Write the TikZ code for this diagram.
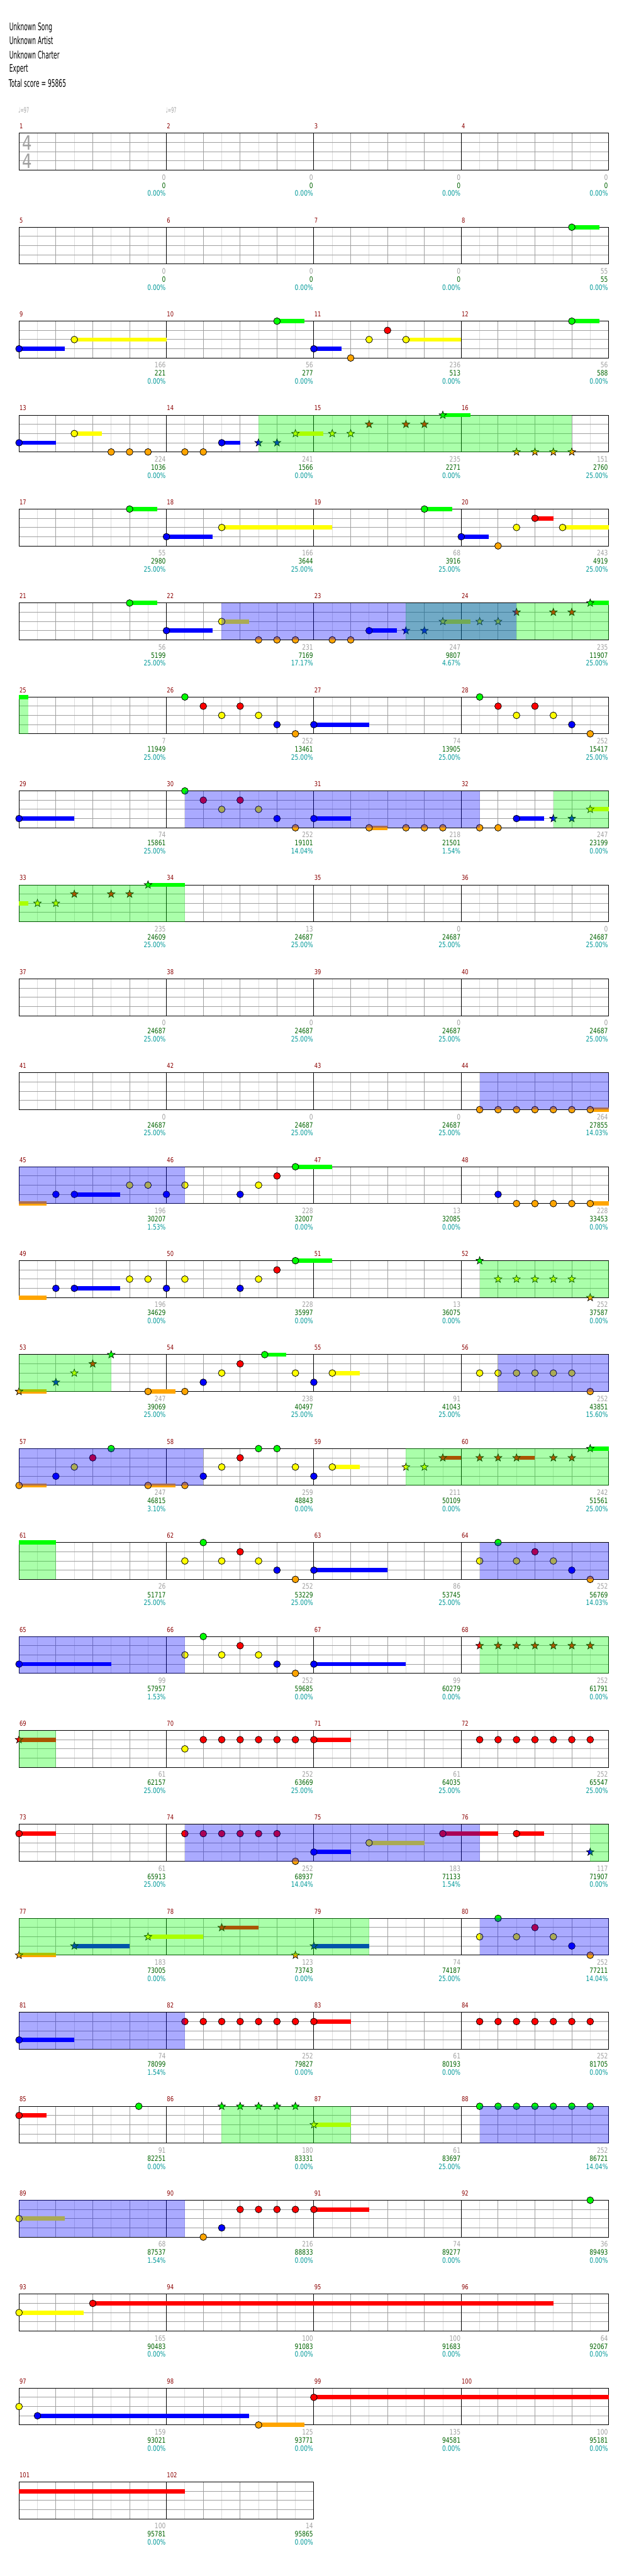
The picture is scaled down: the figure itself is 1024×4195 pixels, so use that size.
\documentclass[tikz,border=0pt]{standalone}
\usepackage{fontspec}
\setmainfont{DejaVu Sans}
\newfontfamily\headfont{DejaVu Sans}[FakeStretch=0.55]
\newfontfamily\chartfont{DejaVu Sans}[FakeStretch=0.78]
\definecolor{lane0}{RGB}{0,255,0}
\definecolor{lane1}{RGB}{255,0,0}
\definecolor{lane2}{RGB}{255,255,0}
\definecolor{lane3}{RGB}{0,0,255}
\definecolor{lane4}{RGB}{255,165,0}
\definecolor{gridg}{RGB}{160,160,160}
\definecolor{gridl}{RGB}{220,220,220}
\definecolor{barnum}{RGB}{139,0,0}
\definecolor{statg}{RGB}{0,100,0}
\definecolor{statt}{RGB}{0,153,153}

% row r: staff top at 217+153(r-1), lanes 15 apart, beat b at x=31+60b
\newcommand\hit[3]{% row, lane, beats
  \foreach \hb in {#3}{\filldraw[fill=lane#2, draw=black, line width=0.8pt]
    ({31+60*\hb},{217+153*(#1-1)+15*#2}) circle (5.5);}}
\newcommand\starhit[3]{% row, lane, beats
  \foreach \hb in {#3}{\filldraw[fill=lane#2, draw=black, line width=0.7pt,
    shift={({31+60*\hb},{217+153*(#1-1)+15*#2})}]
    (270:6.5) -- (306:2.7) -- (342:6.5) -- (18:2.7) -- (54:6.5) -- (90:2.7)
    -- (126:6.5) -- (162:2.7) -- (198:6.5) -- (234:2.7) -- cycle;}}
\newcommand\sus[4]{% row, lane, from, to
  \fill[lane#2] ({31+60*#3},{217+153*(#1-1)+15*#2-3.5}) rectangle ({31+60*#4},{217+153*(#1-1)+15*#2+3.5});}
\newcommand\spzone[3]{\fill[lane0, opacity=0.333] ({31+60*#2},{217+153*(#1-1)}) rectangle ({31+60*#3},{217+153*(#1-1)+60});}
\newcommand\actzone[3]{\fill[lane3, opacity=0.333] ({31+60*#2},{217+153*(#1-1)}) rectangle ({31+60*#3},{217+153*(#1-1)+60});}

\begin{document}
\begin{tikzpicture}[x=1pt, y=-1pt,
  stat/.style={anchor=base east, inner sep=0pt, font=\chartfont\fontsize{12}{12}\selectfont},
  head/.style={anchor=base west, inner sep=0pt, font=\headfont\fontsize{17}{17}\selectfont}]
\fill[white] (0,0) rectangle (1024,4195);
\useasboundingbox (0,0) rectangle (1024,4195);

% ---- header ----
\node[head] (song) at (15,49.3) {Unknown Song};
\node[head] (artist) at (15,72.3) {Unknown Artist};
\node[head] (charter) at (15,95.3) {Unknown Charter};
\node[head] (diff) at (15,117.3) {Expert};
\node[head] (total) at (14,141.7) {Total score = 95865};
\foreach \i in {0,1}{
  \node[anchor=base west, inner sep=0pt, gridg, font=\headfont\fontsize{12}{12}\selectfont] (tempo\i) at ({30+240*\i},184) {♩=97};
}
\node[gridg, inner sep=0pt, font=\chartfont\fontsize{32}{32}\selectfont] (tsup) at (44,233) {4};
\node[gridg, inner sep=0pt, font=\chartfont\fontsize{32}{32}\selectfont] (tsdown) at (44,262) {4};

% ---- staff grid (26 rows, last one 2 measures) ----
\foreach \r in {1,...,26}{
  \pgfmathsetmacro\ry{217+153*(\r-1)}
  \pgfmathtruncatemacro\nm{\r<26 ? 4 : 2}
  \pgfmathtruncatemacro\nbt{4*\nm}
  \pgfmathsetmacro\xe{31+240*\nm}
  \foreach \k in {1,...,\nbt}{ \draw[gridl, line width=1pt] ({1+60*\k},\ry) -- ++(0,60); }
  \foreach \k in {1,...,\nbt}{ \draw[gridg, line width=1pt] ({31+60*\k},\ry) -- ++(0,60); }
  \foreach \l in {1,2,3}{ \draw[gridg, line width=1pt] (31,{\ry+15*\l}) -- (\xe,{\ry+15*\l}); }
  \foreach \j in {0,...,\nm}{ \draw[black, line width=1pt] ({31+240*\j},\ry) -- ++(0,60); }
  \draw[black, line width=1pt] (31,\ry) rectangle (\xe,{\ry+60});
}

% ---- notes: sustains first, heads on top ----
% row 2
\sus{2}{0}{15}{15.75} \hit{2}{0}{15}
% row 3
\sus{3}{3}{0}{1.25} \sus{3}{2}{1.5}{4} \sus{3}{0}{7}{7.75} \sus{3}{3}{8}{8.75}
\sus{3}{2}{10.5}{12} \sus{3}{0}{15}{15.75}
\hit{3}{3}{0,8} \hit{3}{2}{1.5,9.5,10.5} \hit{3}{0}{7,15} \hit{3}{4}{9} \hit{3}{1}{10}
% row 4
\sus{4}{3}{0}{1} \sus{4}{2}{1.5}{2.25} \sus{4}{3}{5.5}{6} \sus{4}{2}{7.5}{8.25} \sus{4}{0}{11.5}{12.25}
\hit{4}{3}{0,5.5} \hit{4}{2}{1.5} \hit{4}{4}{2.5,3,3.5,4.5,5}
\starhit{4}{3}{6.5,7} \starhit{4}{2}{7.5,8.5,9} \starhit{4}{1}{9.5,10.5,11}
\starhit{4}{0}{11.5} \starhit{4}{4}{13.5,14,14.5,15}
% row 5
\sus{5}{0}{3}{3.75} \sus{5}{3}{4}{5.25} \sus{5}{2}{5.5}{8.5} \sus{5}{0}{11}{11.75}
\sus{5}{3}{12}{12.75} \sus{5}{1}{14}{14.5} \sus{5}{2}{14.75}{16}
\hit{5}{0}{3,11} \hit{5}{3}{4,12} \hit{5}{2}{5.5,13.5,14.75} \hit{5}{4}{13} \hit{5}{1}{14}
% row 6
\sus{6}{0}{3}{3.75} \sus{6}{3}{4}{5.25} \sus{6}{2}{5.5}{6.25} \sus{6}{3}{9.5}{10.25}
\sus{6}{2}{11.5}{12.25} \sus{6}{0}{15.5}{16}
\hit{6}{0}{3} \hit{6}{3}{4,9.5} \hit{6}{2}{5.5} \hit{6}{4}{6.5,7,7.5,8.5,9}
\starhit{6}{3}{10.5,11} \starhit{6}{2}{11.5,12.5,13} \starhit{6}{1}{13.5,14.5,15} \starhit{6}{0}{15.5}
% row 7
\sus{7}{0}{0}{0.25} \sus{7}{3}{8}{9.5}
\hit{7}{0}{4.5,12.5} \hit{7}{1}{5,6,13,14} \hit{7}{2}{5.5,6.5,13.5,14.5}
\hit{7}{3}{7,8,15} \hit{7}{4}{7.5,15.5}
% row 8
\sus{8}{3}{0}{1.5} \sus{8}{3}{8}{9} \sus{8}{4}{9.5}{10} \sus{8}{3}{13.5}{14.25} \sus{8}{2}{15.5}{16}
\hit{8}{3}{0,7,8,13.5} \hit{8}{0}{4.5} \hit{8}{1}{5,6} \hit{8}{2}{5.5,6.5}
\hit{8}{4}{7.5,9.5,10.5,11,11.5,12.5,13}
\starhit{8}{3}{14.5,15} \starhit{8}{2}{15.5}
% row 9
\sus{9}{2}{0}{0.25} \sus{9}{0}{3.5}{4.5}
\starhit{9}{2}{0.5,1} \starhit{9}{1}{1.5,2.5,3} \starhit{9}{0}{3.5}
% row 11
\sus{11}{4}{15.5}{16} \hit{11}{4}{12.5,13,...,15.5}
% rows 12 and 13 share an opening phrase
\foreach \rr in {12,13}{
  \sus{\rr}{4}{0}{0.75} \sus{\rr}{3}{1.5}{2.75} \sus{\rr}{0}{7.5}{8.5}
  \hit{\rr}{3}{1,1.5,4,6} \hit{\rr}{2}{3,3.5,4.5,6.5} \hit{\rr}{1}{7} \hit{\rr}{0}{7.5}
}
\sus{12}{4}{15.5}{16} \hit{12}{3}{13} \hit{12}{4}{13.5,14,...,15.5}
\starhit{13}{0}{12.5} \starhit{13}{2}{13,13.5,...,15} \starhit{13}{4}{15.5}
% row 14
\sus{14}{4}{0}{0.75} \sus{14}{4}{3.5}{4.25} \sus{14}{0}{6.667}{7.25} \sus{14}{2}{8.5}{9.25}
\starhit{14}{4}{0} \starhit{14}{3}{1} \starhit{14}{2}{1.5} \starhit{14}{1}{2} \starhit{14}{0}{2.5}
\hit{14}{4}{3.5,4.5,15.5} \hit{14}{3}{5,8} \hit{14}{2}{5.5,7.5,8.5} \hit{14}{1}{6} \hit{14}{0}{6.667}
\hit{14}{2}{12.5,13,...,15}
% row 15
\sus{15}{4}{0}{0.75} \sus{15}{4}{3.5}{4.25} \sus{15}{2}{8.5}{9.25} \sus{15}{1}{11.5}{12}
\sus{15}{1}{13.5}{14} \sus{15}{0}{15.5}{16}
\hit{15}{4}{0,3.5,4.5} \hit{15}{3}{1,5,8} \hit{15}{2}{1.5,5.5,7.5,8.5} \hit{15}{1}{2,6} \hit{15}{0}{2.5,6.5,7}
\starhit{15}{2}{10.5,11} \starhit{15}{1}{11.5,12.5,13,13.5,14.5,15} \starhit{15}{0}{15.5}
% row 16
\sus{16}{0}{0}{1} \sus{16}{3}{8}{10}
\hit{16}{2}{4.5,5.5,6.5,12.5,13.5,14.5} \hit{16}{0}{5,13} \hit{16}{1}{6,14} \hit{16}{3}{7,8,15} \hit{16}{4}{7.5,15.5}
% row 17
\sus{17}{3}{0}{2.5} \sus{17}{3}{8}{10.5}
\hit{17}{3}{0,7,8} \hit{17}{2}{4.5,5.5,6.5} \hit{17}{0}{5} \hit{17}{1}{6} \hit{17}{4}{7.5}
\starhit{17}{1}{12.5,13,...,15.5}
% row 18
\sus{18}{1}{0}{1} \sus{18}{1}{8}{9}
\starhit{18}{1}{0} \hit{18}{2}{4.5} \hit{18}{1}{5,5.5,...,8} \hit{18}{1}{12.5,13,...,15.5}
% row 19
\sus{19}{1}{0}{1} \sus{19}{3}{8}{9} \sus{19}{2}{9.5}{11} \sus{19}{1}{11.5}{13} \sus{19}{1}{13.5}{14.25}
\hit{19}{1}{0,4.5,5,...,7,11.5,13.5} \hit{19}{4}{7.5} \hit{19}{3}{8} \hit{19}{2}{9.5}
\starhit{19}{3}{15.5}
% row 20
\sus{20}{4}{0}{1} \sus{20}{3}{1.5}{3} \sus{20}{2}{3.5}{5} \sus{20}{1}{5.5}{6.5} \sus{20}{3}{8}{9.5}
\starhit{20}{4}{0,7.5} \starhit{20}{3}{1.5,8} \starhit{20}{2}{3.5} \starhit{20}{1}{5.5}
\hit{20}{2}{12.5,13.5,14.5} \hit{20}{0}{13} \hit{20}{1}{14} \hit{20}{3}{15} \hit{20}{4}{15.5}
% row 21
\sus{21}{3}{0}{1.5} \sus{21}{1}{8}{9}
\hit{21}{3}{0} \hit{21}{1}{4.5,5,...,8} \hit{21}{1}{12.5,13,...,15.5}
% row 22
\sus{22}{1}{0}{0.75} \sus{22}{2}{8}{9}
\hit{22}{1}{0} \hit{22}{0}{3.25} \starhit{22}{0}{5.5,6,...,7.5} \starhit{22}{2}{8}
\hit{22}{0}{12.5,13,...,15.5}
% row 23
\sus{23}{2}{0}{1.25} \sus{23}{1}{8}{9.5}
\hit{23}{2}{0} \hit{23}{4}{5} \hit{23}{3}{5.5} \hit{23}{1}{6,6.5,...,8} \hit{23}{0}{15.5}
% row 24
\sus{24}{2}{0}{1.75} \sus{24}{1}{2}{14.5}
\hit{24}{2}{0} \hit{24}{1}{2}
% row 25
\sus{25}{3}{0.5}{6.25} \sus{25}{4}{6.5}{7.75} \sus{25}{1}{8}{16}
\hit{25}{2}{0} \hit{25}{3}{0.5} \hit{25}{4}{6.5} \hit{25}{1}{8}
% row 26
\sus{26}{1}{0}{4.5}

% ---- star power (green) then activation (blue) overlays ----
\foreach \r/\a/\b in {4/6.5/15, 6/10.5/16, 7/0/0.25, 8/14.5/16, 9/0/4.5, 13/12.5/16, 14/0/2.5,
  15/10.5/16, 16/0/1, 17/12.5/16, 18/0/1, 19/15.5/16, 20/0/9.5, 22/5.5/9}{ \spzone{\r}{\a}{\b} }
\foreach \r/\a/\b in {6/5.5/13.5, 8/4.5/12.5, 11/12.5/16, 12/0/4.5, 14/13/16, 15/0/5, 16/12.5/16,
  17/0/4.5, 19/4.5/12.5, 20/12.5/16, 21/0/4.5, 22/12.5/16, 23/0/4.5}{ \actzone{\r}{\a}{\b} }

% ---- measure numbers and running stats ----
\foreach \m/\ga/\gb/\gc in {1/0/0/0.00, 2/0/0/0.00, 3/0/0/0.00, 4/0/0/0.00,
  5/0/0/0.00, 6/0/0/0.00, 7/0/0/0.00, 8/55/55/0.00,
  9/166/221/0.00, 10/56/277/0.00, 11/236/513/0.00, 12/56/588/0.00,
  13/224/1036/0.00, 14/241/1566/0.00, 15/235/2271/0.00, 16/151/2760/25.00,
  17/55/2980/25.00, 18/166/3644/25.00, 19/68/3916/25.00, 20/243/4919/25.00,
  21/56/5199/25.00, 22/231/7169/17.17, 23/247/9807/4.67, 24/235/11907/25.00,
  25/7/11949/25.00, 26/252/13461/25.00, 27/74/13905/25.00, 28/252/15417/25.00,
  29/74/15861/25.00, 30/252/19101/14.04, 31/218/21501/1.54, 32/247/23199/0.00,
  33/235/24609/25.00, 34/13/24687/25.00, 35/0/24687/25.00, 36/0/24687/25.00,
  37/0/24687/25.00, 38/0/24687/25.00, 39/0/24687/25.00, 40/0/24687/25.00,
  41/0/24687/25.00, 42/0/24687/25.00, 43/0/24687/25.00, 44/264/27855/14.03,
  45/196/30207/1.53, 46/228/32007/0.00, 47/13/32085/0.00, 48/228/33453/0.00,
  49/196/34629/0.00, 50/228/35997/0.00, 51/13/36075/0.00, 52/252/37587/0.00,
  53/247/39069/25.00, 54/238/40497/25.00, 55/91/41043/25.00, 56/252/43851/15.60,
  57/247/46815/3.10, 58/259/48843/0.00, 59/211/50109/0.00, 60/242/51561/25.00,
  61/26/51717/25.00, 62/252/53229/25.00, 63/86/53745/25.00, 64/252/56769/14.03,
  65/99/57957/1.53, 66/252/59685/0.00, 67/99/60279/0.00, 68/252/61791/0.00,
  69/61/62157/25.00, 70/252/63669/25.00, 71/61/64035/25.00, 72/252/65547/25.00,
  73/61/65913/25.00, 74/252/68937/14.04, 75/183/71133/1.54, 76/117/71907/0.00,
  77/183/73005/0.00, 78/123/73743/0.00, 79/74/74187/25.00, 80/252/77211/14.04,
  81/74/78099/1.54, 82/252/79827/0.00, 83/61/80193/0.00, 84/252/81705/0.00,
  85/91/82251/0.00, 86/180/83331/0.00, 87/61/83697/25.00, 88/252/86721/14.04,
  89/68/87537/1.54, 90/216/88833/0.00, 91/74/89277/0.00, 92/36/89493/0.00,
  93/165/90483/0.00, 94/100/91083/0.00, 95/100/91683/0.00, 96/64/92067/0.00,
  97/159/93021/0.00, 98/125/93771/0.00, 99/135/94581/0.00, 100/100/95181/0.00,
  101/100/95781/0.00, 102/14/95865/0.00}{
  \pgfmathtruncatemacro\r{div(\m-1,4)}
  \pgfmathtruncatemacro\c{mod(\m-1,4)}
  \pgfmathsetmacro\ry{217+153*\r}
  \pgfmathsetmacro\xa{31+240*\c}
  \node[anchor=base west, inner sep=0pt, barnum, font=\chartfont\fontsize{11}{11}\selectfont] (num\m) at ({\xa+0.7},{\ry-7.3}) {\m};
  \node[stat, gridg] (pts\m) at ({\xa+239},{\ry+76}) {\ga};
  \node[stat, statg] (sum\m) at ({\xa+239},{\ry+89.4}) {\gb};
  \node[stat, statt] (pct\m) at ({\xa+239},{\ry+102.4}) {\gc\%};
}
\end{tikzpicture}
\end{document}
